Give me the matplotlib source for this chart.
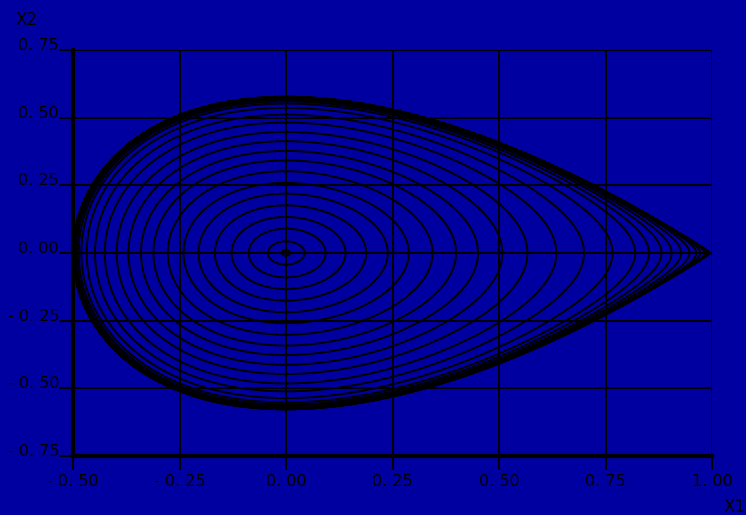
import numpy as np
import matplotlib
matplotlib.use("Agg")
import matplotlib.pyplot as plt

# x2 value where each closed orbit crosses the x1 = 0 axis
x2_at_zero = [0.010, 0.043, 0.090, 0.133, 0.176, 0.219, 0.259, 0.302, 0.342,
              0.377, 0.413, 0.447, 0.482, 0.511, 0.536, 0.552, 0.560, 0.566,
              0.570, 0.573, 0.575, 0.5762, 0.5767, 0.5771, 0.57725, 0.57733]

xticks = [-0.5, -0.25, 0.0, 0.25, 0.5, 0.75, 1.0]
yticks = [-0.75, -0.5, -0.25, 0.0, 0.25, 0.5, 0.75]
xlabels = ["- 0. 50", "- 0. 25", "0. 00", "0. 25", "0. 50", "0. 75", "1. 00"]
ylabels = ["- 0. 75", "- 0. 50", "- 0. 25", "0. 00", "0. 25", "0. 50", "0. 75"]

bg = "#0000a0"

fig = plt.figure(figsize=(7.46, 5.15), dpi=100, facecolor=bg)
ax = fig.add_axes([73/746, 1-456/515, (712-73)/746, (456-50)/515], facecolor=bg)

# energy of x1'' = -x1 + x1^2 : E = x2^2/2 + x1^2/2 - x1^3/3
x1 = np.linspace(-0.55, 1.0, 1600)
x2 = np.linspace(-0.8, 0.8, 1400)
X1, X2 = np.meshgrid(x1, x2)
E = X2**2/2 + X1**2/2 - X1**3/3
levels = sorted(set(v**2/2 for v in x2_at_zero))
ax.contour(X1, X2, E, levels=levels, colors="black", linewidths=1.4)

ax.set_xlim(-0.5, 1.0)
ax.set_ylim(-0.75, 0.75)
ax.set_xticks(xticks)
ax.set_yticks(yticks)
ax.set_xticklabels(xlabels, fontsize=11.5)
ax.set_yticklabels(ylabels, fontsize=11.5)
for lab in ax.get_yticklabels():
    lab.set_verticalalignment("baseline")
ax.tick_params(length=10, width=1.4, color="black", pad=3)
ax.tick_params(axis="y", pad=0)
ax.grid(True, color="black", linewidth=1.4)

for s in ["top", "right"]:
    ax.spines[s].set_visible(False)
ax.spines["left"].set_linewidth(3)
ax.spines["bottom"].set_linewidth(3)

fig.text(15/746, 1-25/515, "X2", fontsize=12, color="black")
fig.text(723/746, 1-512/515, "X1", fontsize=12, color="black")

fig.savefig("out.png", dpi=100, facecolor=bg)
